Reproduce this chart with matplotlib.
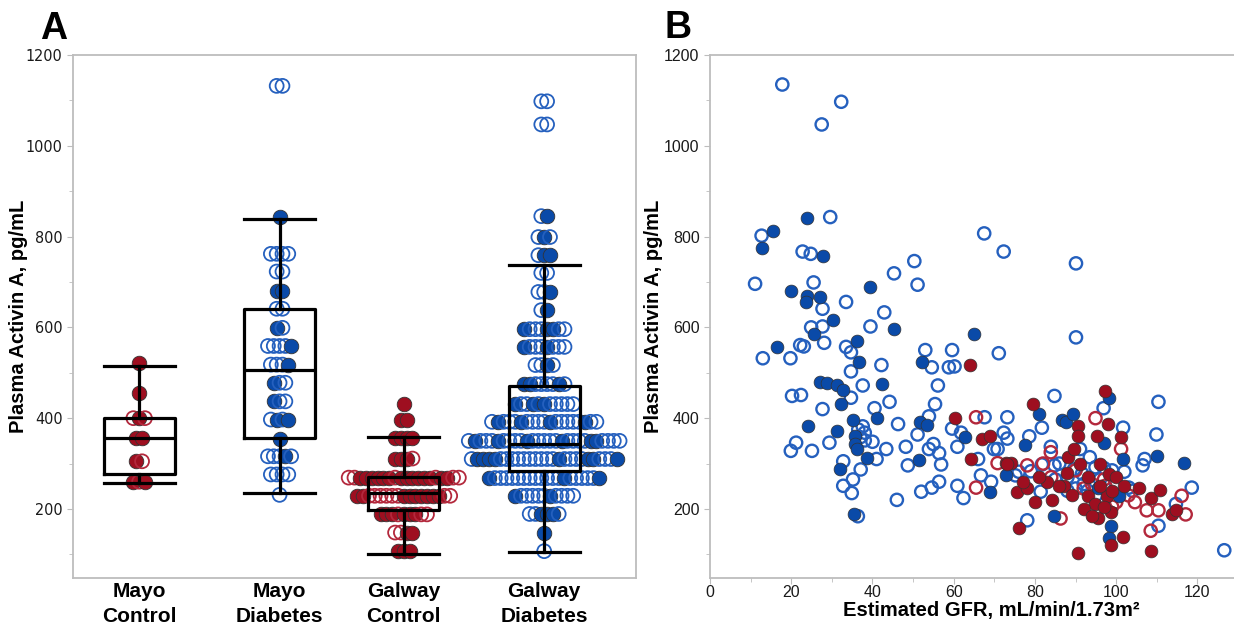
"""Plasma Activin A by cohort (A) and versus eGFR (B). Saves out.png."""

import matplotlib

matplotlib.use("Agg")
import matplotlib.pyplot as plt
from matplotlib.ticker import MultipleLocator

BLUE_FILL = "#0a4aa8"
BLUE_OPEN = "#2560be"
RED_FILL = "#9e0f20"
RED_OPEN = "#b3283c"
EDGE = "#333333"
SPINE = "#bdbdbd"

# ---- panel A: dot rows per group (level, pattern: f = filled, o = open) ----
groups = ["Mayo\nControl", "Mayo\nDiabetes", "Galway\nControl", "Galway\nDiabetes"]
group_pos = [1.0, 2.04, 2.96, 4.0]

mc_levels = [521, 456, 400, 357, 305, 260]
mc_rows = ["f", "f", "ofo", "ff", "fo", "fof"]

md_levels = [1132, 843, 762, 723, 681, 641, 599, 559, 518, 478, 437, 397, 355, 316, 276, 231]
md_rows = ["oo", "f", "oooo", "oo", "ff", "oo", "fo", "oooof", "ooof", "foo", "foo",
           "ofof", "f", "ooofo", "oooo", "o"]

gc_levels = [431, 395, 357, 311, 269, 229, 188, 148, 108]
gc_rows = ["f", "ff", "ffff", "fffo", "ooffffffoffffffoffoo", "ffoooooofffffffoo",
           "fffofffoo", "ooff", "fff"]

gd_levels = [1098, 1047, 845, 799, 759, 720, 678, 638, 596, 557, 517, 475, 431,
             392, 350, 310, 268, 229, 189, 147, 107]
gd_rows = ["oo", "oo", "of", "ofo", "off", "oo", "oof", "of", "foooffoo", "fooofooo",
           "oofo", "ffoooofo", "foofofooooo",
           "ofooofoooofooooofoo",
           "ofooofoooofooooofooooffoooo",
           "offffoooooooooofooooffooof",
           "foooooooooooofooooof",
           "fooooofoooo", "oofffo", "f", "o"]

# box stats: whisker low, q1, median, q3, whisker high
box_lo = [257, 235, 101, 105]
box_q1 = [278, 357, 198, 284]
box_med = [357, 505, 235, 343]
box_q3 = [400, 641, 271, 470]
box_hi = [514, 839, 359, 738]

# ---- panel B: eGFR (x) vs Activin A (y) ----
bf_x = [23.9, 15.4, 12.7, 27.7, 19.9, 23.9, 27.2, 23.6, 39.3, 30.4, 25.5, 45.3, 65.1, 16.4,
        36.1, 36.6, 52.3, 42.4, 27.0, 28.9, 31.3, 32.8, 32.3, 41.2, 35.2, 24.1, 31.3, 35.7,
        35.7, 36.1, 38.6, 32.1, 35.5, 51.8, 53.4, 51.5, 62.7, 68.9, 72.8, 77.6, 81.0, 84.8,
        86.7, 87.7, 89.4, 95.4, 96.9, 98.3, 98.8, 98.3, 100.7, 101.7, 110.0, 116.6]
bf_y = [840, 813, 775, 757, 680, 669, 668, 656, 689, 617, 586, 597, 586, 557,
        570, 524, 524, 476, 479, 478, 472, 463, 431, 400, 395, 382, 372, 360,
        342, 332, 312, 287, 188, 391, 386, 307, 359, 238, 274, 341, 409, 184,
        395, 391, 409, 247, 346, 445, 163, 135, 229, 310, 316, 301]

bo_x = [17.8, 32.3, 27.5, 29.6, 12.7, 67.5, 72.3, 90.1, 90.1, 22.8, 24.8, 50.3, 51.1, 45.3,
        11.1, 25.5, 27.7, 33.5, 42.9, 24.9, 27.7, 28.1, 39.5, 13.0, 19.8, 22.2, 23.1, 33.5,
        34.7, 34.7, 42.2, 53.0, 54.6, 59.6, 58.8, 60.2, 71.1, 56.1, 55.4, 37.6, 20.2, 22.4,
        34.7, 27.7, 40.5, 44.2, 46.3, 37.6, 38.1, 38.1, 40.0, 29.4, 21.2, 19.9, 25.1, 41.0,
        43.4, 32.8, 37.1, 32.8, 35.2, 34.9, 36.4, 46.0, 48.2, 48.7, 51.1, 52.0, 54.6, 53.9,
        55.0, 56.4, 56.9, 56.4, 53.9, 59.6, 60.9, 61.8, 60.9, 62.4, 66.0, 67.6, 66.7, 69.2,
        69.9, 70.8, 72.3, 73.2, 73.2, 75.2, 78.1, 78.6, 81.7, 81.7, 81.4, 83.9, 84.8, 84.8,
        89.6, 91.1, 91.6, 93.5, 94.9, 96.9, 101.7, 103.1, 106.5, 107.0, 110.4, 109.9, 110.4,
        114.7, 118.6, 126.6, 86.0, 88.0, 92.0, 96.0, 97.0, 99.0, 100.0, 102.0, 93.0, 104.0,
        88.0, 76.0, 79.0, 85.0, 90.0, 95.0, 36.5, 37.0]
bo_y = [1135, 1097, 1047, 843, 802, 807, 767, 741, 578, 767, 762, 746, 694, 719,
        696, 699, 641, 656, 633, 600, 602, 566, 602, 532, 532, 561, 558, 557,
        545, 503, 517, 550, 512, 550, 512, 514, 543, 472, 431, 472, 449, 451,
        445, 420, 422, 436, 387, 382, 368, 351, 348, 346, 346, 328, 328, 310,
        332, 305, 287, 251, 265, 235, 184, 220, 337, 296, 364, 238, 247, 332,
        343, 323, 298, 260, 404, 377, 337, 368, 251, 224, 310, 402, 274, 260,
        332, 332, 368, 355, 402, 274, 175, 360, 379, 298, 238, 337, 296, 449,
        287, 332, 278, 314, 292, 422, 379, 247, 296, 310, 436, 364, 163,
        211, 247, 109, 300, 270, 255, 265, 290, 285, 255, 282, 240, 240,
        240, 282, 283, 265, 245, 230, 375, 358]

rf_x = [64.1, 60.2, 64.3, 67.0, 68.9, 72.8, 74.2, 75.7, 76.1, 78.1, 80.0, 79.5, 82.9, 84.3,
        90.6, 88.2, 89.6, 90.6, 87.2, 90.6, 93.0, 95.2, 94.9, 95.4, 97.3, 98.1, 98.3, 97.8,
        98.8, 98.8, 101.7, 101.2, 105.5, 108.5, 110.8, 108.6, 113.7, 114.7, 91.0, 93.0, 96.0,
        99.0, 100.0, 92.0, 94.0, 97.0, 86.0, 88.0, 81.0, 77.0, 73.0, 89.0, 102.0, 96.0]
rf_y = [517, 400, 310, 355, 360, 301, 301, 238, 157, 247, 215, 431, 260, 220,
        382, 314, 332, 360, 251, 103, 229, 361, 211, 179, 460, 387, 278, 229,
        193, 121, 139, 359, 247, 224, 242, 108, 188, 197, 300, 270, 250,
        240, 270, 200, 185, 205, 250, 280, 270, 260, 300, 230, 250, 300]

ro_x = [65.5, 65.5, 70.8, 78.1, 83.9, 86.3, 94.9, 97.3, 101.2, 104.6, 107.5, 108.5, 110.4,
        116.1, 117.1, 84.0, 90.0, 94.0, 97.0, 100.0, 103.0, 99.0, 92.0, 82.0]
ro_y = [402, 247, 301, 296, 325, 179, 400, 251, 332, 215, 197, 152, 197,
        229, 188, 270, 285, 255, 265, 215, 230, 205, 245, 300]


def _style_axis(ax):
    for side in ("left", "bottom", "top", "right"):
        ax.spines[side].set_color(SPINE)
        ax.spines[side].set_linewidth(1.3)
    ax.set_ylim(49, 1200)
    ax.yaxis.set_major_locator(MultipleLocator(200))
    ax.yaxis.set_minor_locator(MultipleLocator(100))
    ax.tick_params(axis="y", which="major", length=4, color=SPINE, labelcolor="#1a1a1a")
    ax.tick_params(axis="y", which="minor", length=3, color=SPINE)


def _dot_rows(ax, pos, levels, rows, fill_c, open_c, step):
    for lev, pat in zip(levels, rows):
        n = len(pat)
        for i, ch in enumerate(pat):
            x = pos + (i - (n - 1) / 2) * step
            if ch == "f":
                ax.scatter(x, lev, s=110, color=fill_c, edgecolors=EDGE, linewidths=0.6, zorder=2)
            else:
                ax.scatter(x, lev, s=100, facecolors="none", edgecolors=open_c, linewidths=1.3, zorder=2)


fig = plt.figure(figsize=(12.34, 6.32), dpi=100)
W, H = 1234, 632
axA = fig.add_axes([73 / W, 1 - 577.5 / H, (636 - 73) / W, (577.5 - 55) / H])
axB = fig.add_axes([710 / W, 1 - 577.5 / H, (1240 - 710) / W, (577.5 - 55) / H])

# ---- A ----
_style_axis(axA)
axA.set_xlim(0.51, 4.68)
step = 5.8 * (4.68 - 0.51) / (636 - 73)  # dot spacing ~5.8 px
group_data = [
    (mc_levels, mc_rows, RED_FILL, RED_OPEN),
    (md_levels, md_rows, BLUE_FILL, BLUE_OPEN),
    (gc_levels, gc_rows, RED_FILL, RED_OPEN),
    (gd_levels, gd_rows, BLUE_FILL, BLUE_OPEN),
]
for pos, (lev, rows, fc, oc) in zip(group_pos, group_data):
    _dot_rows(axA, pos, lev, rows, fc, oc, step)

stats = [dict(whislo=lo, q1=q1, med=m, q3=q3, whishi=hi, fliers=[])
         for lo, q1, m, q3, hi in zip(box_lo, box_q1, box_med, box_q3, box_hi)]
bw = 0.525
lw = dict(color="black", linewidth=2.3)
axA.bxp(stats, positions=group_pos, widths=bw, capwidths=bw, showfliers=False,
        boxprops=lw, whiskerprops=lw, capprops=lw, medianprops=lw, zorder=3)
axA.set_xticks(group_pos)
axA.set_xticklabels(groups, fontsize=15, fontweight="bold", family="Liberation Sans",
                    linespacing=1.4)
axA.tick_params(axis="x", length=0, pad=3)
for lab in axA.get_yticklabels():
    lab.set_family("DejaVu Sans")
    lab.set_stretch("condensed")
    lab.set_fontsize(11.5)
axA.set_ylabel("Plasma Activin A, pg/mL", fontsize=14.5, fontweight="bold", family="Liberation Sans")
axA.yaxis.set_label_coords(-0.08, 0.5)

# ---- B ----
_style_axis(axB)
axB.spines["right"].set_visible(False)
axB.set_xlim(0, (1240 - 710) / 4.062)
axB.xaxis.set_major_locator(MultipleLocator(20))
axB.xaxis.set_minor_locator(MultipleLocator(10))
axB.tick_params(axis="x", which="major", length=4, color=SPINE, labelcolor="#1a1a1a", pad=1.5)
axB.tick_params(axis="x", which="minor", length=3, color=SPINE)
for lab in axB.get_xticklabels() + axB.get_yticklabels():
    lab.set_family("Liberation Sans")
    lab.set_fontsize(11.5)

axB.scatter(bo_x, bo_y, s=78, facecolors="none", edgecolors=BLUE_OPEN, linewidths=1.7, zorder=2)
axB.scatter(ro_x, ro_y, s=78, facecolors="none", edgecolors=RED_OPEN, linewidths=1.7, zorder=2)
axB.scatter(bf_x, bf_y, s=85, color=BLUE_FILL, edgecolors=EDGE, linewidths=0.5, zorder=3)
axB.scatter(rf_x, rf_y, s=85, color=RED_FILL, edgecolors=EDGE, linewidths=0.5, zorder=3)

axB.set_ylabel("Plasma Activin A, pg/mL", fontsize=14.5, fontweight="bold", family="Liberation Sans")
axB.yaxis.set_label_coords(-0.089, 0.5)
axB.set_xlabel("Estimated GFR, mL/min/1.73m²", fontsize=14.5, fontweight="bold",
               family="Liberation Sans")
axB.xaxis.set_label_coords(0.53, -0.045)

fig.text(54 / W, 1 - 39 / H, "A", fontsize=27, fontweight="bold", family="Liberation Sans",
         ha="center", va="baseline")
fig.text(678 / W, 1 - 38 / H, "B", fontsize=27, fontweight="bold", family="Liberation Sans",
         ha="center", va="baseline")

fig.savefig("out.png", dpi=100)
plt.close(fig)
